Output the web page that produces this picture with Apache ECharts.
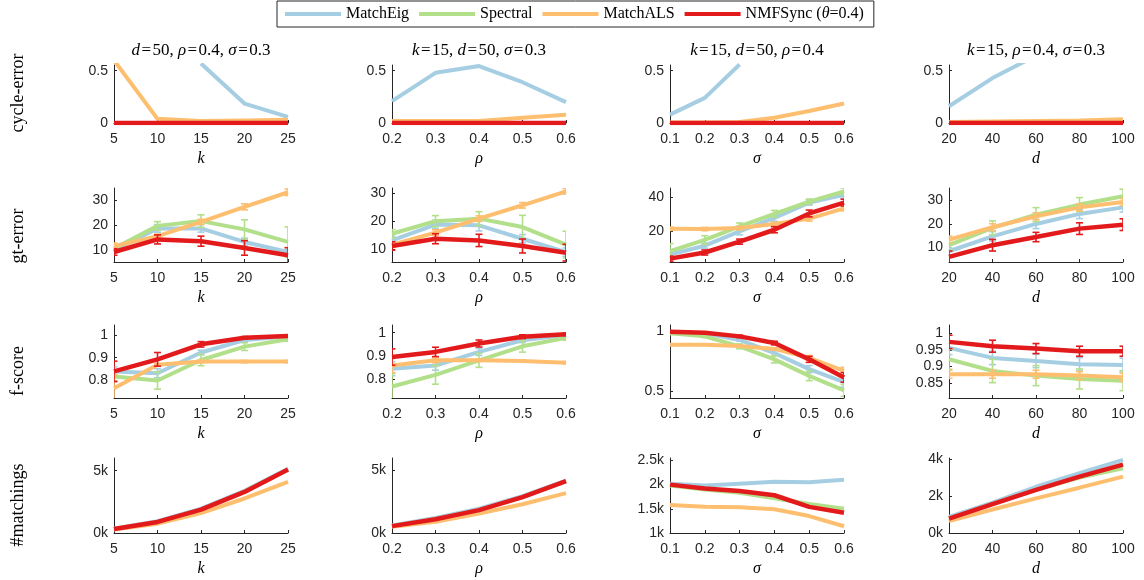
<!DOCTYPE html>
<html>
<head>
<meta charset="utf-8">
<script src="https://cdn.jsdelivr.net/npm/echarts@6/dist/echarts.min.js"></script>
<style>
  html, body { margin: 0; padding: 0; background: #fff; }
  #main { width: 1144px; height: 580px; }
</style>
</head>
<body>
<div id="main"></div>
<script>
// method order in every array: MatchEig, Spectral, MatchALS, NMFSync
const methods = ['MatchEig', 'Spectral', 'MatchALS', 'NMFSync (θ=0.4)'];

const kCats = ['5', '10', '15', '20', '25'];
const rhoCats = ['0.2', '0.3', '0.4', '0.5', '0.6'];
const sigmaCats = ['0.1', '0.2', '0.3', '0.4', '0.5', '0.6'];
const dCats = ['20', '40', '60', '80', '100'];

// cycle-error
const cycK = [
  [null, null, 0.57, 0.186, 0.058],
  [0, 0, 0, 0, 0],
  [0.6, 0.04, 0.02, 0.025, 0.03],
  [0, 0, 0, 0, 0]
];
const cycRho = [
  [0.21, 0.48, 0.545, 0.39, 0.2],
  [0, 0, 0, 0, 0],
  [0.02, 0.02, 0.02, 0.05, 0.08],
  [0, 0, 0, 0, 0]
];
const cycSigma = [
  [0.08, 0.24, 0.56, null, null, null],
  [0, 0, 0, 0, 0, 0],
  [0.005, 0.005, 0.01, 0.05, 0.115, 0.186],
  [0, 0, 0, 0, 0, 0]
];
const cycD = [
  [0.16, 0.43, 0.645, null, null],
  [0, 0, 0, 0, 0],
  [0.01, 0.015, 0.02, 0.025, 0.035],
  [0, 0, 0, 0, 0]
];

// gt-error (mean) and half error bars
const gtK = [
  [10, 18.7, 18.7, 13.3, 9.3],
  [10.7, 19.7, 21.6, 18.3, 13.3],
  [11.6, 15.6, 21.3, 27.3, 33.1],
  [9.3, 14.3, 13.6, 10.9, 8]
];
const gtKErr = [
  [1, 1.5, 1.5, 1.5, 1],
  [1.2, 1.7, 2.5, 3.8, 6],
  [1.3, 0.8, 1, 1.2, 1.3],
  [1.3, 1.8, 2, 2.9, 3]
];
const gtRho = [
  [13.2, 18.9, 18.6, 13.8, 9],
  [15.6, 20.1, 21, 18, 11.7],
  [11.7, 16, 21, 25.8, 30.8],
  [11.2, 13.8, 13.2, 11.2, 8.8]
];
const gtRhoErr = [
  [1.5, 1.5, 2, 1.5, 1.5],
  [1.5, 2, 2.5, 4.2, 4.8],
  [1, 1, 1, 1, 1],
  [1.5, 1.8, 2.2, 2.5, 3]
];
const gtSigma = [
  [6, 11.2, 19.6, 27.6, 36.6, 41.2],
  [8, 14.6, 22.6, 30, 37.2, 43.2],
  [21.2, 21, 21.6, 24, 27.2, 33.2],
  [3.6, 7.2, 13.6, 20.6, 30.2, 36.6]
];
const gtSigmaErr = [
  [1.5, 1.5, 2, 2, 1.5, 2],
  [4.5, 2.5, 2, 2, 1.5, 2],
  [1, 1, 1, 1, 1.5, 1.5],
  [1.5, 1.5, 1.5, 1.8, 2, 2]
];
const gtD = [
  [8.3, 14.7, 20, 24.3, 27.1],
  [10.9, 18.3, 24, 28.3, 31.9],
  [13.3, 18.6, 23.3, 27.1, 29.4],
  [5.9, 10.9, 14.4, 18, 19.7]
];
const gtDErr = [
  [1.5, 2, 2, 2, 2],
  [2, 3, 3, 3, 3],
  [1.5, 1.5, 1.5, 1.5, 1.5],
  [2.5, 2.5, 2, 2.5, 2.5]
];

// f-score
const fK = [
  [0.84, 0.832, 0.923, 0.978, 0.993],
  [0.818, 0.8, 0.89, 0.949, 0.981],
  [0.766, 0.869, 0.883, 0.883, 0.883],
  [0.84, 0.893, 0.959, 0.988, 0.996]
];
const fKErr = [
  [0.02, 0.02, 0.01, 0.005, 0.003],
  [0.02, 0.038, 0.025, 0.017, 0.008],
  [0.06, 0.005, 0.005, 0.005, 0.005],
  [0.045, 0.03, 0.012, 0.005, 0.003]
];
const fRho = [
  [0.846, 0.86, 0.918, 0.968, 0.99],
  [0.77, 0.82, 0.882, 0.942, 0.978],
  [0.86, 0.882, 0.882, 0.879, 0.872],
  [0.896, 0.918, 0.954, 0.983, 0.993]
];
const fRhoErr = [
  [0.03, 0.02, 0.015, 0.01, 0.005],
  [0.055, 0.04, 0.03, 0.025, 0.01],
  [0.03, 0.01, 0.005, 0.005, 0.005],
  [0.035, 0.02, 0.015, 0.008, 0.005]
];
const fSigma = [
  [0.986, 0.986, 0.93, 0.82, 0.686, 0.577],
  [0.986, 0.96, 0.877, 0.768, 0.63, 0.508],
  [0.89, 0.89, 0.88, 0.855, 0.78, 0.672],
  [0.998, 0.99, 0.96, 0.904, 0.768, 0.617]
];
const fSigmaErr = [
  [0.005, 0.005, 0.01, 0.02, 0.03, 0.04],
  [0.005, 0.01, 0.02, 0.03, 0.04, 0.05],
  [0.005, 0.005, 0.005, 0.01, 0.02, 0.03],
  [0.005, 0.005, 0.01, 0.015, 0.025, 0.04]
];
const fD = [
  [0.956, 0.926, 0.917, 0.907, 0.905],
  [0.922, 0.887, 0.873, 0.863, 0.858],
  [0.877, 0.877, 0.877, 0.873, 0.868],
  [0.974, 0.961, 0.954, 0.946, 0.946]
];
const fDErr = [
  [0.02, 0.02, 0.02, 0.02, 0.02],
  [0.03, 0.035, 0.03, 0.03, 0.03],
  [0.012, 0.012, 0.012, 0.012, 0.012],
  [0.02, 0.018, 0.015, 0.015, 0.015]
];

// #matchings
const mK = [
  [350, 950, 1950, 3380, 5150],
  [320, 890, 1880, 3300, 5100],
  [270, 750, 1600, 2770, 4110],
  [320, 890, 1880, 3300, 5100]
];
const mRho = [
  [600, 1200, 1950, 2950, 4200],
  [550, 1100, 1830, 2870, 4150],
  [500, 900, 1560, 2300, 3200],
  [550, 1100, 1830, 2870, 4150]
];
const mSigma = [
  [2020, 1980, 2020, 2060, 2050, 2100],
  [1980, 1900, 1830, 1720, 1600, 1500],
  [1580, 1540, 1530, 1490, 1350, 1140],
  [2000, 1920, 1870, 1780, 1540, 1420]
];
const mD = [
  [870, 1640, 2500, 3240, 3950],
  [780, 1560, 2330, 3000, 3500],
  [650, 1270, 1870, 2450, 3050],
  [780, 1560, 2330, 3050, 3700]
];

// tick labels
const cycTicks = [0, 0.5];
const gtTicks = [[10, 20, 30], [10, 20, 30], [20, 40], [10, 20, 30]];
const fTicks = [[0.8, 0.9, 1], [0.8, 0.9, 1], [0.5, 1], [0.85, 0.9, 0.95, 1]];
const mTicks = [[0, 5000], [0, 5000], [1000, 1500, 2000, 2500], [0, 2000, 4000]];

const colors = ['#a6cee3', '#b2df8a', '#fdbf6f', '#e31a1c'];
const lineWidths = [4, 4, 4, 4.5];
const serif = '"Liberation Serif", "DejaVu Serif", serif';
const sans = '"Liberation Sans", Arial, sans-serif';
const axisColor = '#262626';

const colLeft = [114, 392, 670, 949];
const colWidth = 174;
const rowTop = [65, 188, 325, 458];
const rowHeight = [58, 74, 73, 75];

const xCats = [kCats, rhoCats, sigmaCats, dCats];
const xNames = ['k', 'ρ', 'σ', 'd'];
const hs = '\u200a';
const colTitles = [
  `{i|d}${hs}=${hs}50, {i|ρ}${hs}=${hs}0.4, {i|σ}${hs}=${hs}0.3`,
  `{i|k}${hs}=${hs}15, {i|d}${hs}=${hs}50, {i|σ}${hs}=${hs}0.3`,
  `{i|k}${hs}=${hs}15, {i|d}${hs}=${hs}50, {i|ρ}${hs}=${hs}0.4`,
  `{i|k}${hs}=${hs}15, {i|ρ}${hs}=${hs}0.4, {i|σ}${hs}=${hs}0.3`
];
const rowLabels = ['cycle-error', 'gt-error', 'f-score', '#matchings'];
const rowLabelY = [93, 236, 371, 505];

const kFmt = v => (v / 1000) + 'k';
const plainFmt = v => String(v);

// rows x columns of panel settings
const rows = [
  { data: [cycK, cycRho, cycSigma, cycD], err: null,
    min: [0, 0, 0, 0], max: [0.555, 0.555, 0.555, 0.555],
    ticks: [cycTicks, cycTicks, cycTicks, cycTicks], fmt: plainFmt },
  { data: [gtK, gtRho, gtSigma, gtD], err: [gtKErr, gtRhoErr, gtSigmaErr, gtDErr],
    min: [5.3, 5.45, 1.6, 3.7], max: [34.8, 32, 45.2, 35.4],
    ticks: gtTicks, fmt: plainFmt },
  { data: [fK, fRho, fSigma, fD], err: [fKErr, fRhoErr, fSigmaErr, fDErr],
    min: [0.723, 0.721, 0.445, 0.806], max: [1.044, 1.033, 1.055, 1.0245],
    ticks: fTicks, fmt: plainFmt },
  { data: [mK, mRho, mSigma, mD], err: null,
    min: [0, 0, 1000, 0], max: [6020, 6010, 2550, 4055],
    ticks: mTicks, fmt: kFmt }
];

function errorBarItem(color) {
  return function (params, api) {
    const i = api.value(0);
    const top = api.coord([i, api.value(2)]);
    const bot = api.coord([i, api.value(1)]);
    const half = 3.5;
    const style = { stroke: color, lineWidth: 1.6 };
    return {
      type: 'group',
      children: [
        { type: 'line', shape: { x1: top[0], y1: top[1], x2: bot[0], y2: bot[1] }, style: style },
        { type: 'line', shape: { x1: top[0] - half, y1: top[1], x2: top[0] + half, y2: top[1] }, style: style },
        { type: 'line', shape: { x1: bot[0] - half, y1: bot[1], x2: bot[0] + half, y2: bot[1] }, style: style }
      ]
    };
  };
}

const grids = [], xAxes = [], yAxes = [], series = [];
rows.forEach((row, r) => {
  for (let c = 0; c < 4; c++) {
    const g = grids.length;
    grids.push({ left: colLeft[c], top: rowTop[r], width: colWidth, height: rowHeight[r] });
    xAxes.push({
      gridIndex: g,
      type: 'category',
      data: xCats[c],
      boundaryGap: false,
      name: xNames[c],
      nameLocation: 'middle',
      nameGap: 28,
      nameTextStyle: { fontFamily: serif, fontStyle: 'italic', fontSize: 16, color: '#000' },
      axisLine: { onZero: false, lineStyle: { color: axisColor, width: 1 } },
      axisTick: { inside: true, length: 3, interval: 0, lineStyle: { color: axisColor } },
      axisLabel: { interval: 0, margin: 9, color: axisColor, fontSize: 14, fontFamily: sans },
      splitLine: { show: false }
    });
    yAxes.push({
      gridIndex: g,
      type: 'value',
      min: row.min[c],
      max: row.max[c],
      axisLine: { show: true, onZero: false, lineStyle: { color: axisColor, width: 1 } },
      axisTick: { show: true, inside: true, length: 3, customValues: row.ticks[c], lineStyle: { color: axisColor } },
      axisLabel: { customValues: row.ticks[c], formatter: row.fmt, margin: 6, color: axisColor, fontSize: 14, fontFamily: sans },
      splitLine: { show: false }
    });
    const vals = row.data[c];
    for (let m = 0; m < 4; m++) {
      series.push({
        name: methods[m],
        type: 'line',
        xAxisIndex: g,
        yAxisIndex: g,
        data: vals[m],
        symbol: 'none',
        z: 2 + m,
        lineStyle: { color: colors[m], width: lineWidths[m] },
        itemStyle: { color: colors[m] },
        emphasis: { disabled: true }
      });
      if (row.err) {
        const half = row.err[c][m];
        series.push({
          name: methods[m] + ' err',
          type: 'custom',
          xAxisIndex: g,
          yAxisIndex: g,
          clip: true,
          z: 2 + m,
          renderItem: errorBarItem(colors[m]),
          encode: { x: 0, y: [1, 2] },
          data: vals[m].map((v, i) => [i, v - half[i], v + half[i]])
        });
      }
    }
  }
});

const graphics = [];
colTitles.forEach((t, c) => {
  graphics.push({
    type: 'text',
    x: colLeft[c] + colWidth / 2,
    y: 51,
    style: {
      text: t,
      fill: '#000',
      fontFamily: serif,
      fontSize: 17,
      align: 'center', textAlign: 'center',
      verticalAlign: 'middle', textVerticalAlign: 'middle',
      rich: { i: { fontFamily: serif, fontSize: 17, fontStyle: 'italic', fill: '#000' } }
    }
  });
});
rowLabels.forEach((t, r) => {
  graphics.push({
    type: 'text',
    x: 18,
    y: rowLabelY[r],
    rotation: Math.PI / 2,
    style: {
      text: t,
      fill: '#000',
      fontFamily: serif,
      fontSize: 18,
      align: 'center', textAlign: 'center',
      verticalAlign: 'middle', textVerticalAlign: 'middle'
    }
  });
});

const myChart = echarts.init(document.getElementById('main'));
myChart.setOption({
  animation: false,
  backgroundColor: '#fff',
  legend: {
    data: methods.map(n => ({ name: n, icon: 'rect' })),
    left: 277,
    top: 1,
    itemWidth: 56,
    itemHeight: 4,
    itemGap: 10,
    padding: [5, 10, 5, 8],
    borderColor: axisColor,
    borderWidth: 1,
    selectedMode: false,
    formatter: name => name.replace('θ', '{i|θ}'),
    textStyle: {
      fontFamily: serif,
      fontSize: 16,
      color: '#000',
      rich: { i: { fontFamily: serif, fontSize: 16, fontStyle: 'italic', color: '#000' } }
    }
  },
  grid: grids,
  xAxis: xAxes,
  yAxis: yAxes,
  series: series,
  graphic: graphics
});
</script>
</body>
</html>
